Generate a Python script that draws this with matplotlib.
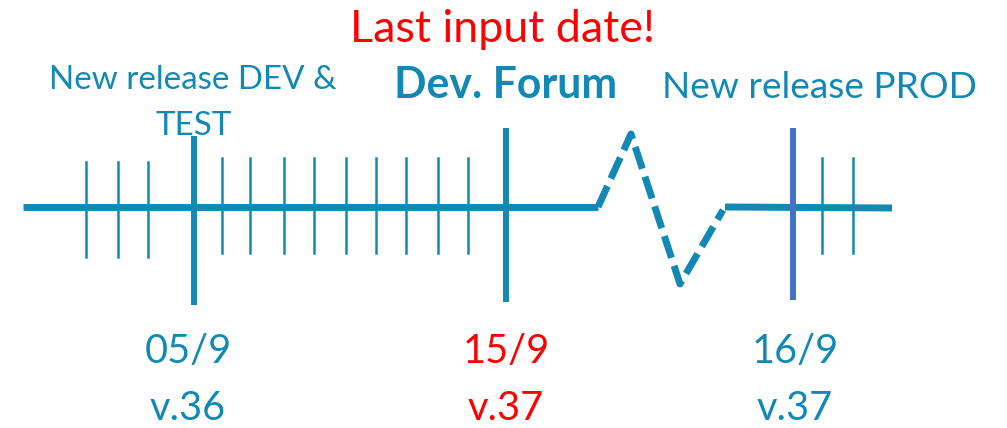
import matplotlib
matplotlib.use('Agg')
import matplotlib.pyplot as plt

plt.rcParams['font.family'] = ['Lato', 'DejaVu Sans']

TEAL = '#1289B4'
BLUE = '#4472C4'
RED = '#FF0000'

# timeline geometry (pixel space of the 1007x428 picture)
main_line_x = [23, 598]
main_line_y = [207, 207]
break_x = [598, 631, 680, 723]
break_y = [207, 134, 284, 210]
tail_x = [725, 892]
tail_y = [207, 208]

minor_left_x = [86, 118, 148]
minor_mid_x = [222, 250, 284, 314, 346, 376, 406, 438, 468]
minor_right_x = [822, 853]

major_x = [194, 506, 793]
major_top = [136, 128, 128]
major_bottom = [305, 302, 300]
major_colors = [TEAL, TEAL, BLUE]

# labels
header_text = 'Last input date!'
event_labels = ['New release DEV &', 'Dev. Forum', 'New release PROD']
dates = ['05/9', '15/9', '16/9']
versions = ['v.36', 'v.37', 'v.37']
date_colors = [TEAL, RED, TEAL]

fig = plt.figure(figsize=(10.07, 4.28), dpi=100)
ax = fig.add_axes([0, 0, 1, 1])
ax.set_xlim(0, 1007)
ax.set_ylim(428, 0)
ax.axis('off')

ax.plot(main_line_x, main_line_y, color=TEAL, lw=5, solid_capstyle='butt')
ax.plot(tail_x, tail_y, color=TEAL, lw=5, solid_capstyle='butt')
zz, = ax.plot(break_x, break_y, color=TEAL, lw=5, dash_capstyle='butt')
zz.set_dashes((3.3, 1.2))

for x in minor_left_x:
    ax.plot([x, x], [162, 257], color=TEAL, lw=1.8)
for x in minor_mid_x:
    ax.plot([x, x], [158, 253], color=TEAL, lw=1.8)
for x in minor_right_x:
    ax.plot([x, x], [158, 253], color=TEAL, lw=1.8)
for x, t, b, c in zip(major_x, major_top, major_bottom, major_colors):
    ax.plot([x, x], [t, b], color=c, lw=4.3, solid_capstyle='butt')

renderer = fig.canvas.get_renderer()


def fit_text(x, y, s, width, size=30, **kw):
    # put text centred at x on baseline y, scaled so it spans `width` pixels
    t = ax.text(x, y, s, ha='center', va='baseline', fontsize=size, **kw)
    w = t.get_window_extent(renderer).width
    t.set_fontsize(size * width / w)
    return t.get_fontsize()


fit_text(502, 42, header_text, 305, color=RED)

fs = fit_text(193, 89, event_labels[0], 287, color=TEAL)
ax.text(194, 135, 'TEST', ha='center', va='baseline', fontsize=fs, color=TEAL)
fit_text(506, 98, event_labels[1], 223, color=TEAL, fontweight='bold')
fit_text(819, 98, event_labels[2], 315, color=TEAL)

date_cx = [188, 506, 795]
dfs = None
for cx, d, v, c in zip(date_cx, dates, versions, date_colors):
    if dfs is None:
        dfs = fit_text(cx, 363, d, 87, color=c)
    else:
        ax.text(cx, 363, d, ha='center', va='baseline', fontsize=dfs, color=c)
    ax.text(cx, 420, v, ha='center', va='baseline', fontsize=dfs, color=c)

fig.savefig('out.png', dpi=100)
